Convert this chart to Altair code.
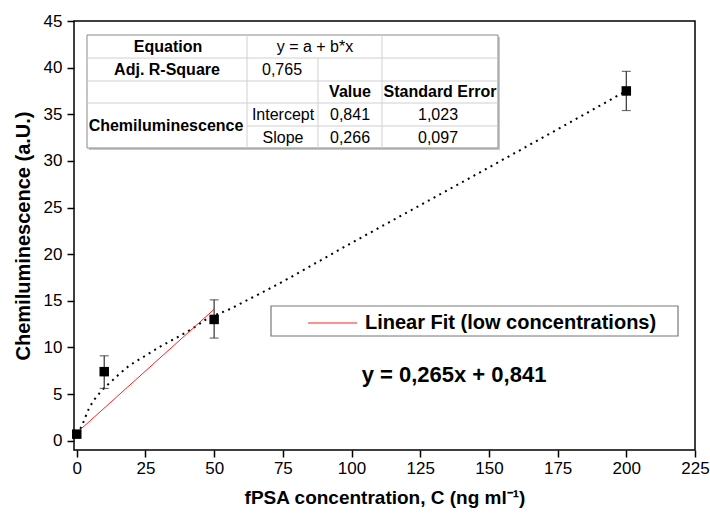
import altair as alt
import pandas as pd

# ---------------- data ----------------
conc = [0, 10, 50, 200]
signal = [0.7, 7.4, 13.0, 37.5]
err_low = [0.4, 5.6, 11.0, 35.4]
err_high = [1.0, 9.1, 15.1, 39.6]

curve_x = [0, 1.5, 4.4, 8.7, 12.4, 18.5, 24.4, 30.5, 36.7, 42.5, 47.6, 54.9, 62.2, 66.9, 100, 150, 200]
curve_y = [0.7, 1.4, 3.4, 5.25, 6.3, 7.9, 9.0, 10.1, 11.1, 12.1, 13.1, 14.0, 15.1, 15.8, 21.2, 29.3, 37.5]

fit_x = [0, 50]
fit_y = [0.84, 14.09]

x_ticks = [0, 12.5, 25, 37.5, 50, 62.5, 75, 87.5, 100, 112.5, 125, 137.5, 150,
           162.5, 175, 187.5, 200, 212.5, 225]
y_ticks = [0, 2.5, 5, 7.5, 10, 12.5, 15, 17.5, 20, 22.5, 25, 27.5, 30, 32.5, 35,
           37.5, 40, 42.5, 45]

table_text = ["Equation", "y = a + b*x", "Adj. R-Square", "0,765", "Value", "Standard Error",
              "Chemiluminescence", "Intercept", "0,841", "1,023", "Slope", "0,266", "0,097"]
table_bold = [True, False, True, False, True, True, True, False, False, False, False, False, False]

legend_label = "Linear Fit (low concentrations)"
equation_label = "y = 0,265x + 0,841"

# ---------------- layout (pixels, relative to plot area) ----------------
W, H = 621, 429
FONT = "Liberation Sans"
table_px = [94, 241, 93, 208, 276, 366, 92, 209, 276, 364, 209, 276, 364]
table_py = [26, 26, 49, 49, 71, 71, 105, 94, 94, 94, 117, 117, 117]
T_L, T_R, T_T, T_B = 13, 424, 14, 127
row_y = [37, 60, 82, 105]
col_x = [173, 244, 308]
# line segments of the table grid: (x, x2, y, y2)
grid_segments = [
    (T_L, T_R, row_y[0], row_y[0]),
    (T_L, T_R, row_y[1], row_y[1]),
    (T_L, T_R, row_y[2], row_y[2]),
    (col_x[0], T_R, row_y[3], row_y[3]),
    (col_x[0], col_x[0], T_T, T_B),
    (col_x[1], col_x[1], row_y[0], T_B),
    (col_x[2], col_x[2], T_T, T_B),
]

x_scale = alt.Scale(domain=[-1, 225], nice=False, zero=False)
y_scale = alt.Scale(domain=[-1, 45], nice=False, zero=False)

x_axis = alt.Axis(
    values=x_ticks,
    labelExpr="datum.value % 25 === 0 ? datum.label : ''",
    tickSize={"condition": {"test": "datum.value % 25 === 0", "value": 7}, "value": 4},
    title="fPSA concentration, C (ng ml\u207b\u00b9)",
    titleFont=FONT, titleFontSize=19, titleFontWeight="bold", titleColor="black",
    titlePadding=12,
    labelFont=FONT, labelFontSize=17, labelColor="black", labelPadding=3,
    labelOverlap=False, labelFlush=False,
    domain=False, grid=False, tickColor="black", tickWidth=1.5,
)
y_axis = alt.Axis(
    values=y_ticks,
    labelExpr="datum.value % 5 === 0 ? datum.label : ''",
    tickSize={"condition": {"test": "datum.value % 5 === 0", "value": 7}, "value": 4},
    title="Chemiluminescence (a.U.)",
    titleFont=FONT, titleFontSize=20, titleFontWeight="bold", titleColor="black",
    titlePadding=10,
    labelFont=FONT, labelFontSize=17, labelColor="black", labelPadding=5,
    labelOverlap=False, labelFlush=False,
    domain=False, grid=False, tickColor="black", tickWidth=1.5,
)

pts = pd.DataFrame({"x": conc, "y": signal, "lo": err_low, "hi": err_high})
curve = pd.DataFrame({"x": curve_x, "y": curve_y})
fit = pd.DataFrame({"x": fit_x, "y": fit_y})

curve_layer = alt.Chart(curve).mark_line(
    color="black", strokeWidth=2, strokeDash=[2, 4.5], interpolate="monotone"
).encode(
    x=alt.X("x:Q", scale=x_scale, axis=x_axis),
    y=alt.Y("y:Q", scale=y_scale, axis=y_axis),
)

fit_layer = alt.Chart(fit).mark_line(color="#ff2020", strokeWidth=1).encode(
    x=alt.X("x:Q", scale=x_scale), y=alt.Y("y:Q", scale=y_scale)
)

err_rule = alt.Chart(pts).mark_rule(color="#333333", strokeWidth=1.2).encode(
    x=alt.X("x:Q", scale=x_scale), y=alt.Y("lo:Q", scale=y_scale), y2="hi:Q"
)
cap_lo = alt.Chart(pts).mark_tick(color="#333333", orient="horizontal", size=9, thickness=1.2).encode(
    x=alt.X("x:Q", scale=x_scale), y=alt.Y("lo:Q", scale=y_scale)
)
cap_hi = alt.Chart(pts).mark_tick(color="#333333", orient="horizontal", size=9, thickness=1.2).encode(
    x=alt.X("x:Q", scale=x_scale), y=alt.Y("hi:Q", scale=y_scale)
)
points = alt.Chart(pts).mark_point(shape="square", filled=True, size=90, color="black", opacity=1).encode(
    x=alt.X("x:Q", scale=x_scale), y=alt.Y("y:Q", scale=y_scale)
)

one = pd.DataFrame({"a": [0]})

# table
table_shadow = alt.Chart(one).mark_rect(fill="#c8c8c8").encode(
    x=alt.value(T_L + 2), x2=alt.value(T_R + 2), y=alt.value(T_T + 2), y2=alt.value(T_B + 2)
)
table_box = alt.Chart(one).mark_rect(fill="white", stroke="#8a8a8a", strokeWidth=1).encode(
    x=alt.value(T_L), x2=alt.value(T_R), y=alt.value(T_T), y2=alt.value(T_B)
)
grid_df = pd.DataFrame(grid_segments, columns=["gx", "gx2", "gy", "gy2"])
table_grid = alt.Chart(grid_df).mark_rule(color="#d0d0d0", strokeWidth=1).encode(
    x=alt.X("gx:Q", scale=None, axis=None), x2="gx2:Q",
    y=alt.Y("gy:Q", scale=None, axis=None), y2="gy2:Q",
)
tdf = pd.DataFrame({"t": table_text, "px": table_px, "py": table_py,
                    "w": ["bold" if b else "normal" for b in table_bold]})
table_bold_layer = alt.Chart(tdf[tdf.w == "bold"]).mark_text(
    font=FONT, fontSize=16, fontWeight="bold", color="black", align="center", baseline="middle"
).encode(x=alt.X("px:Q", scale=None, axis=None), y=alt.Y("py:Q", scale=None, axis=None), text="t:N")
table_norm_layer = alt.Chart(tdf[tdf.w == "normal"]).mark_text(
    font=FONT, fontSize=16, color="black", align="center", baseline="middle"
).encode(x=alt.X("px:Q", scale=None, axis=None), y=alt.Y("py:Q", scale=None, axis=None), text="t:N")

# legend box
leg_box = alt.Chart(one).mark_rect(fill="white", stroke="#777777", strokeWidth=1.2).encode(
    x=alt.value(197), x2=alt.value(604), y=alt.value(285), y2=alt.value(315)
)
leg_line = alt.Chart(one).mark_rule(color="#ff2020", strokeWidth=1).encode(
    x=alt.value(234), x2=alt.value(283), y=alt.value(302)
)
leg_text = alt.Chart(one).mark_text(
    text=legend_label, font=FONT, fontSize=20, fontWeight="bold", color="black",
    align="left", baseline="middle"
).encode(x=alt.value(291), y=alt.value(302))
eq_text = alt.Chart(one).mark_text(
    text=equation_label, font=FONT, fontSize=22, fontWeight="bold", color="black",
    align="center", baseline="middle"
).encode(x=alt.value(380), y=alt.value(354))

chart = alt.layer(
    curve_layer, fit_layer, err_rule, cap_lo, cap_hi, points,
    table_shadow, table_box, table_grid, table_bold_layer, table_norm_layer,
    leg_box, leg_line, leg_text, eq_text,
).properties(
    width=W, height=H,
    autosize=alt.AutoSizeParams(type="none"),
    padding={"left": 74, "top": 21, "right": 15, "bottom": 63},
    background="white",
).configure_view(stroke="black", strokeWidth=1.5)

chart.save("out.html", embed_options={"renderer": "svg", "actions": False})
